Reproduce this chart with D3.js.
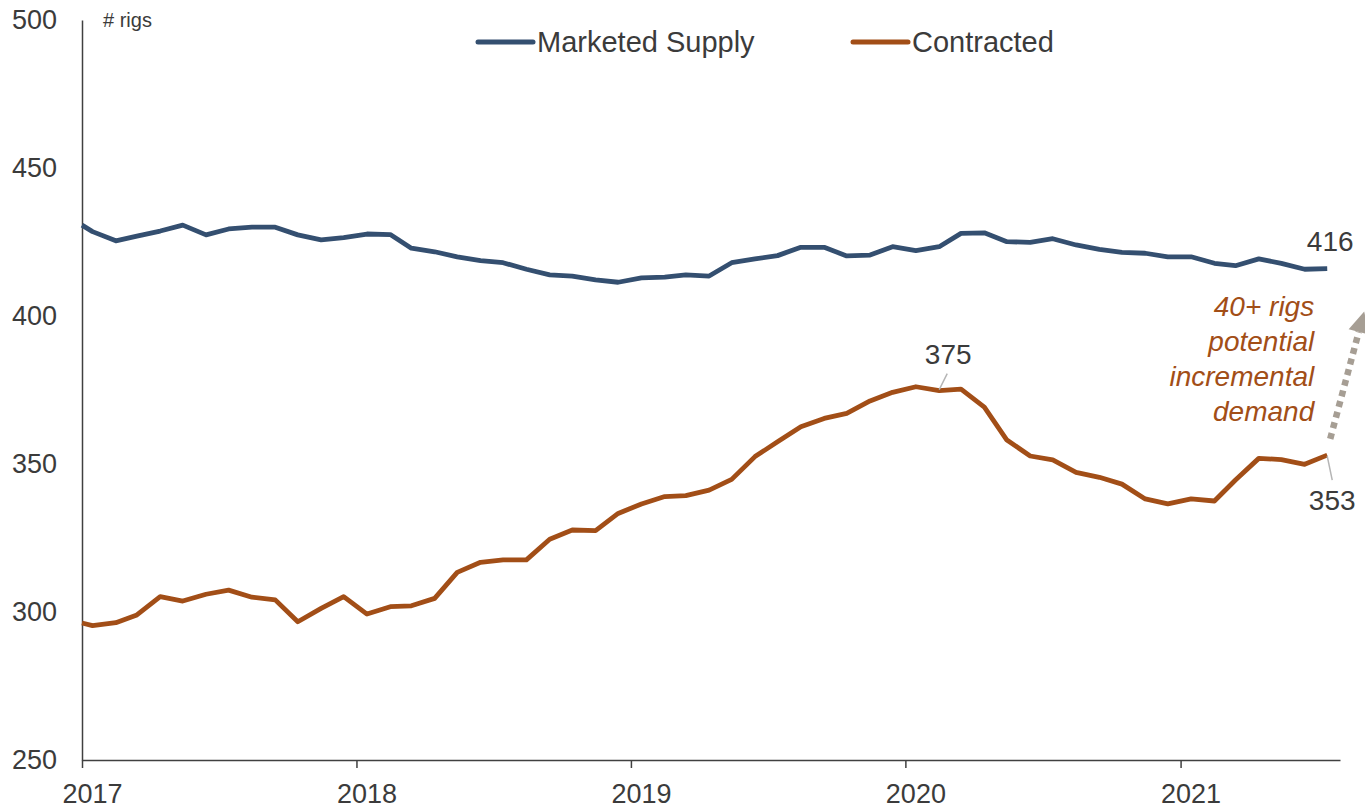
<!DOCTYPE html>
<html>
<head>
<meta charset="utf-8">
<script src="https://cdn.jsdelivr.net/npm/d3@7"></script>
<style>
  html, body { margin: 0; padding: 0; background: #fff; }
  svg { display: block; font-family: "Liberation Sans", Arial, sans-serif; }
</style>
</head>
<body>
<svg id="chart" width="1365" height="809"></svg>
<script>
// ---- data ----
const dates = [
  "2017-01-01",
  "2017-01-15","2017-02-15","2017-03-15","2017-04-15","2017-05-15","2017-06-15",
  "2017-07-15","2017-08-15","2017-09-15","2017-10-15","2017-11-15","2017-12-15",
  "2018-01-15","2018-02-15","2018-03-15","2018-04-15","2018-05-15","2018-06-15",
  "2018-07-15","2018-08-15","2018-09-15","2018-10-15","2018-11-15","2018-12-15",
  "2019-01-15","2019-02-15","2019-03-15","2019-04-15","2019-05-15","2019-06-15",
  "2019-07-15","2019-08-15","2019-09-15","2019-10-15","2019-11-15","2019-12-15",
  "2020-01-15","2020-02-15","2020-03-15","2020-04-15","2020-05-15","2020-06-15",
  "2020-07-15","2020-08-15","2020-09-15","2020-10-15","2020-11-15","2020-12-15",
  "2021-01-15","2021-02-15","2021-03-15","2021-04-15","2021-05-15","2021-06-15",
  "2021-07-15"
];

const marketedSupply = [
  430.7,
  428.5, 425.4, 427.0, 428.7, 430.7, 427.4, 429.4, 430.0, 430.0, 427.4, 425.7, 426.5,
  427.7, 427.5, 422.9, 421.7, 420.0, 418.7, 418.0, 415.8, 413.9, 413.5, 412.2, 411.4,
  412.9, 413.1, 413.9, 413.5, 418.0, 419.3, 420.4, 423.2, 423.2, 420.3, 420.6, 423.4,
  422.1, 423.4, 427.9, 428.1, 425.1, 424.9, 426.1, 424.0, 422.5, 421.5, 421.2, 420.0,
  420.0, 417.8, 417.0, 419.3, 417.8, 415.8, 416.0
];

const contracted = [
  296.3,
  295.4, 296.4, 299.0, 305.2, 303.7, 306.0, 307.4, 305.0, 304.1, 296.7, 301.2, 305.2,
  299.3, 301.8, 302.1, 304.6, 313.4, 316.8, 317.6, 317.6, 324.6, 327.7, 327.5, 333.3,
  336.5, 339.0, 339.3, 341.2, 344.8, 352.5, 357.5, 362.6, 365.4, 367.1, 371.3, 374.2,
  376.1, 374.8, 375.3, 369.2, 358.1, 352.7, 351.4, 347.2, 345.5, 343.2, 338.2, 336.5,
  338.2, 337.5, 344.6, 351.9, 351.5, 349.9, 353.0
];

const seriesNames = ["Marketed Supply", "Contracted"];
const seriesColors = ["#344F70", "#A24E17"];
const yTicks = [250, 300, 350, 400, 450, 500];
const xTickYears = ["2017", "2018", "2019", "2020", "2021"];
const yUnit = "# rigs";

// labels: [series index, data index, text]
const peakLabel = { series: 1, index: 38, text: "375" };
const endLabels = [
  { series: 0, index: 55, text: "416" },
  { series: 1, index: 55, text: "353" }
];
const noteLines = ["40+ rigs", "potential", "incremental", "demand"];

// ---- chart ----
const parse = d3.timeParse("%Y-%m-%d");
const dateVals = dates.map(parse);
const seriesData = [marketedSupply, contracted];

const svg = d3.select("#chart");
const x = d3.scaleTime()
  .domain([parse("2017-01-01"), parse("2021-08-01")])
  .range([82, 1340]);
const y = d3.scaleLinear().domain([250, 500]).range([760, 20]);

const textColor = "#3b3b3b";
const axisColor = "#404040";

// y axis
const yAxis = svg.append("g")
  .attr("transform", `translate(${x.range()[0]},0)`)
  .call(d3.axisLeft(y).tickValues(yTicks).tickSize(0).tickPadding(25).tickFormat(d3.format("d")));
yAxis.select(".domain").attr("stroke", axisColor).attr("stroke-width", 1.5);
yAxis.selectAll("text").attr("font-size", 27).attr("fill", textColor)
  .attr("font-family", "'Liberation Sans', Arial, sans-serif");

// x axis
const xAxis = svg.append("g")
  .attr("transform", `translate(0,${y(250)})`)
  .call(d3.axisBottom(x)
    .tickValues(xTickYears.map(s => parse(s + "-01-01")))
    .tickFormat(d3.timeFormat("%Y"))
    .tickSize(8).tickSizeOuter(0).tickPadding(16));
xAxis.select(".domain").attr("stroke", axisColor).attr("stroke-width", 1.5);
xAxis.selectAll(".tick line").attr("stroke", axisColor).attr("stroke-width", 1.5);
xAxis.selectAll("text").attr("font-size", 27).attr("fill", textColor)
  .attr("dx", 10)
  .attr("font-family", "'Liberation Sans', Arial, sans-serif");

// unit label
svg.append("text")
  .attr("x", x.range()[0] + 21).attr("y", y(500) + 7)
  .attr("font-size", 20).attr("fill", textColor)
  .text(yUnit);

// lines
const line = d3.line()
  .x((d, i) => x(dateVals[i]))
  .y(d => y(d));

seriesData.forEach((s, k) => {
  svg.append("path")
    .datum(s)
    .attr("fill", "none")
    .attr("stroke", seriesColors[k])
    .attr("stroke-width", 4.8)
    .attr("stroke-linejoin", "round")
    .attr("d", line);
});

// legend
const legendX = [478, 853];
seriesNames.forEach((name, k) => {
  const g = svg.append("g").attr("transform", `translate(${legendX[k]},42)`);
  g.append("line").attr("x1", 0).attr("x2", 55).attr("y1", 0).attr("y2", 0)
    .attr("stroke", seriesColors[k]).attr("stroke-width", 5).attr("stroke-linecap", "round");
  g.append("text").attr("x", 59).attr("y", 10)
    .attr("font-size", 29).attr("fill", textColor).text(name);
});

// peak label 375
{
  const px = x(dateVals[peakLabel.index]);
  const py = y(seriesData[peakLabel.series][peakLabel.index]);
  svg.append("line")
    .attr("x1", px).attr("y1", py - 1).attr("x2", px + 8).attr("y2", py - 17)
    .attr("stroke", "#b5b5b5").attr("stroke-width", 1.5);
  svg.append("text")
    .attr("x", px + 9).attr("y", py - 27)
    .attr("text-anchor", "middle").attr("font-size", 28).attr("fill", textColor)
    .text(peakLabel.text);
}

// end labels
{
  const l0 = endLabels[0];
  const px0 = x(dateVals[l0.index]);
  const py0 = y(seriesData[l0.series][l0.index]);
  svg.append("text")
    .attr("x", px0 + 3).attr("y", py0 - 18)
    .attr("text-anchor", "middle").attr("font-size", 28).attr("fill", textColor)
    .text(l0.text);

  const l1 = endLabels[1];
  const px1 = x(dateVals[l1.index]);
  const py1 = y(seriesData[l1.series][l1.index]);
  svg.append("line")
    .attr("x1", px1).attr("y1", py1 + 1).attr("x2", px1 + 5).attr("y2", py1 + 25)
    .attr("stroke", "#b5b5b5").attr("stroke-width", 1.5);
  svg.append("text")
    .attr("x", px1 + 5).attr("y", py1 + 55)
    .attr("text-anchor", "middle").attr("font-size", 28).attr("fill", textColor)
    .text(l1.text);
}

// note text
{
  const nx = x(dateVals[55]) - 13;
  const note = svg.append("text")
    .attr("text-anchor", "end")
    .attr("font-size", 28).attr("font-style", "italic")
    .attr("fill", "#A24E17");
  noteLines.forEach((t, i) => {
    note.append("tspan").attr("x", nx).attr("y", 316 + i * 35).text(t);
  });
}

// dotted arrow
{
  const lx = x(dateVals[55]);
  const sx = lx + 3, sy = y(358.5);
  const tx = lx + 37, ty = y(401.5);
  const dx = tx - sx, dy = ty - sy;
  const len = Math.hypot(dx, dy);
  const ux = dx / len, uy = dy / len;
  const headLen = 21, headHalf = 10.5;
  const bx = tx - ux * headLen, by = ty - uy * headLen;
  const color = "#A69E94";
  svg.append("line")
    .attr("x1", sx).attr("y1", sy).attr("x2", bx).attr("y2", by)
    .attr("stroke", color).attr("stroke-width", 6.5)
    .attr("stroke-dasharray", "6 5");
  svg.append("polygon")
    .attr("points", [
      [tx, ty],
      [bx - uy * headHalf, by + ux * headHalf],
      [bx + uy * headHalf, by - ux * headHalf]
    ].map(p => p.join(",")).join(" "))
    .attr("fill", color);
}
</script>
</body>
</html>
